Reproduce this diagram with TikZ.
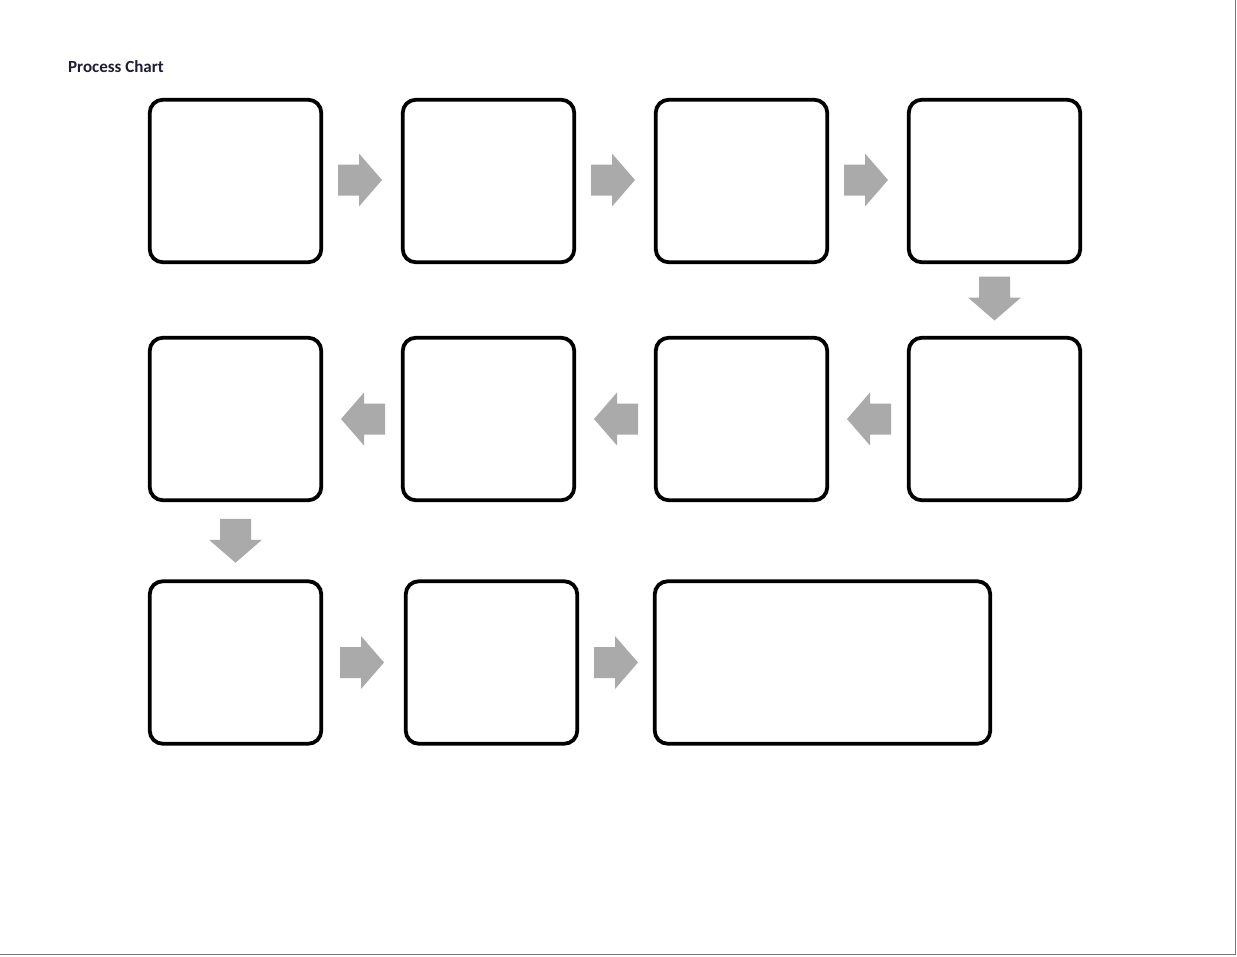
\documentclass[tikz,border=0pt]{standalone}
\usepackage{fontspec}
\setmainfont{Carlito}
\usetikzlibrary{calc}
\definecolor{arrowgray}{RGB}{170,170,170}
\definecolor{titlecol}{RGB}{30,30,50}
\definecolor{framegray}{RGB}{120,120,120}
\tikzset{
  box/.style={draw=black, line width=3.8pt, rounded corners=13pt, fill=white,
    minimum width=171.5pt, minimum height=162.5pt, inner sep=0pt},
  widebox/.style={box, minimum width=335.5pt},
  blockarrow/.style={fill=arrowgray, draw=none}
}
\newcommand{\blockarrowat}[2]{%
  \begin{scope}[shift={(#1)}, rotate=#2]
    \fill[blockarrow] (-22,-15.5) -- (-1,-15.5) -- (-1,-26.5) -- (22,0) -- (-1,26.5) -- (-1,15.5) -- (-22,15.5) -- cycle;
  \end{scope}}
\begin{document}
\begin{tikzpicture}[x=1pt,y=-1pt]
\useasboundingbox (0,0) rectangle (1237,956);
\fill[white] (0,0) rectangle (1237,956);
\draw[framegray, line width=1.5pt] (1235.5,0) -- (1235.5,954.5) -- (0,954.5);
\node[anchor=base west, font=\bfseries\fontsize{17}{20}\selectfont, text=titlecol, inner sep=0pt] (title) at (68,72) {Process Chart};
% row 1
\node[box] (b1) at (235.5,181) {};
\node[box] (b2) at (488.5,181) {};
\node[box] (b3) at (741.5,181) {};
\node[box] (b4) at (994.5,181) {};
% row 2
\node[box] (b5) at (994.5,419) {};
\node[box] (b6) at (741.5,419) {};
\node[box] (b7) at (488.5,419) {};
\node[box] (b8) at (235.5,419) {};
% row 3
\node[box] (b9) at (235.5,662.5) {};
\node[box] (b10) at (491.5,662.5) {};
\node[widebox] (b11) at (822.5,662.5) {};
% arrows
\coordinate (a1) at ($(b1.east)!0.5!(b2.west)+(-2,-1)$);
\coordinate (a2) at ($(b2.east)!0.5!(b3.west)+(-2,-1)$);
\coordinate (a3) at ($(b3.east)!0.5!(b4.west)+(-2,-1)$);
\coordinate (a4) at ($(b4.south)!0.5!(b5.north)+(0,-1.5)$);
\coordinate (a5) at ($(b5.west)!0.5!(b6.east)+(1,0)$);
\coordinate (a6) at ($(b6.west)!0.5!(b7.east)+(1,0)$);
\coordinate (a7) at ($(b7.west)!0.5!(b8.east)+(1,0)$);
\coordinate (a8) at ($(b8.south)!0.5!(b9.north)+(0,0)$);
\coordinate (a9) at ($(b9.east)!0.5!(b10.west)+(-1.5,0)$);
\coordinate (a10) at ($(b10.east)!0.5!(b11.west)+(0,0)$);
\blockarrowat{a1}{0}
\blockarrowat{a2}{0}
\blockarrowat{a3}{0}
\blockarrowat{a4}{-90}
\blockarrowat{a5}{180}
\blockarrowat{a6}{180}
\blockarrowat{a7}{180}
\blockarrowat{a8}{-90}
\blockarrowat{a9}{0}
\blockarrowat{a10}{0}
\end{tikzpicture}
\end{document}
